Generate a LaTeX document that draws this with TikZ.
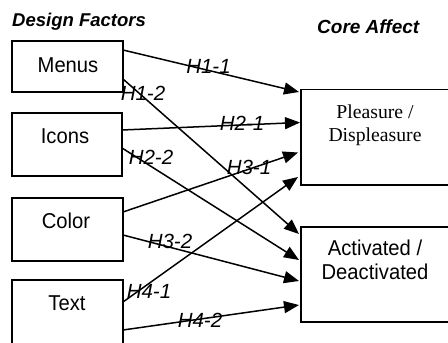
\documentclass[tikz,border=0pt]{standalone}
\usepackage{fontspec}
\setmainfont{Liberation Sans}
\newfontfamily\timesfont{Liberation Serif}
\newfontfamily\boxsans[FakeStretch=0.94]{Liberation Sans}
\usetikzlibrary{arrows.meta,calc}
\begin{document}
\begin{tikzpicture}[x=1pt,y=-1pt,
  box/.style={draw,line width=1.5pt,rectangle,inner sep=0pt,outer sep=0pt,anchor=north west},
  conn/.style={line width=1.5pt,-{Triangle[length=15pt,width=12pt]}},
  hlab/.style={font=\fontsize{20.5}{20.5}\selectfont\itshape,inner sep=0pt},
  btxt/.style={font=\boxsans\fontsize{21.5}{21.5}\selectfont,inner sep=0pt,anchor=base},
  stxt/.style={font=\timesfont\fontsize{19.7}{19.7}\selectfont,inner sep=0pt,anchor=base},
  ttl/.style={font=\fontsize{18.5}{18.5}\selectfont\bfseries\itshape,inner sep=0pt,anchor=base west}]
\useasboundingbox[fill=white] (0,0) rectangle (448,343);
% titles
\node[ttl] (tdf) at (12,26.7) {Design Factors};
\node[ttl,font=\fontsize{19}{19}\selectfont\bfseries\itshape] (tca) at (317,33) {Core Affect};
% left boxes
\node[box,minimum width=111pt,minimum height=51pt] (menus) at (12,41) {};
\node[box,minimum width=110pt,minimum height=63pt] (icons) at (12,113) {};
\node[box,minimum width=111pt,minimum height=63pt] (color) at (12,198) {};
\node[box,minimum width=111pt,minimum height=80pt] (text) at (12,280) {};
% right boxes
\node[box,minimum width=170pt,minimum height=95.5pt] (pleas) at (301,89.5) {};
\node[box,minimum width=170pt,minimum height=95pt] (activ) at (301,227) {};
% box texts
\node[btxt] (menusT) at (68,72.5) {Menus};
\node[btxt] (iconsT) at (65,143.3) {Icons};
\node[btxt] (colorT) at (66,228) {Color};
\node[btxt] (textT) at (67,310) {Text};
\node[stxt] (pleasT1) at (375,118.3) {Pleasure /};
\node[stxt] (pleasT2) at (375,141.7) {Displeasure};
\node[btxt] (activT1) at (375,255.3) {Activated /};
\node[btxt] (activT2) at (375,279.3) {Deactivated};
% end coordinates
\coordinate (e11) at ($(pleas.north west)+(-2,2.5)$);
\coordinate (e21) at ($(pleas.north west)+(-1,33)$);
\coordinate (e31) at ($(pleas.north west)+(-3,63)$);
\coordinate (e41) at ($(pleas.north west)+(-3,87.5)$);
\coordinate (e12) at ($(activ.north west)+(-2,7)$);
\coordinate (e22) at ($(activ.north west)+(-2,33)$);
\coordinate (e32) at ($(activ.north west)+(-2,54)$);
\coordinate (e42) at ($(activ.north west)+(-2,78)$);
% connectors
\draw[conn] ($(menus.north east)+(0,9)$) -- (e11);
\draw[conn] ($(menus.north east)+(0,38)$) -- (e12);
\draw[conn] ($(icons.north east)+(0,17)$) -- (e21);
\draw[conn] ($(icons.north east)+(0,35)$) -- (e22);
\draw[conn] ($(color.north east)+(0,14)$) -- (e31);
\draw[conn] ($(color.north east)+(0,37)$) -- (e32);
\draw[conn] ($(text.north east)+(0,22)$) -- (e41);
\draw[conn] ($(text.north east)+(0,50)$) -- (e42);
% labels
\node[hlab] (l11) at (208.5,66.7) {H1-1};
\node[hlab] (l12) at (143,93) {H1-2};
\node[hlab] (l21) at (242,123) {H2-1};
\node[hlab] (l22) at (151,157) {H2-2};
\node[hlab] (l31) at (249,167) {H3-1};
\node[hlab] (l32) at (170,241) {H3-2};
\node[hlab] (l41) at (149,291) {H4-1};
\node[hlab] (l42) at (200,320) {H4-2};
\end{tikzpicture}
\end{document}
